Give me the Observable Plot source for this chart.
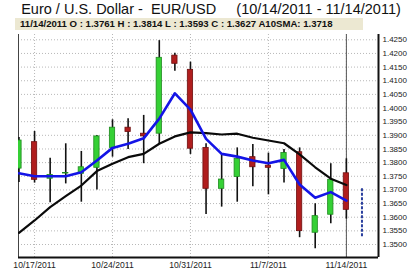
<!DOCTYPE html>
<html><head><meta charset="utf-8">
<script src="https://cdn.jsdelivr.net/npm/d3@7"></script>
<script src="https://cdn.jsdelivr.net/npm/@observablehq/plot@0.6"></script>
<style>
body{margin:0;background:#fff;font-family:"Liberation Sans",Arial,sans-serif}
#wrap{position:relative;width:410px;height:271px;overflow:hidden;background:#fff}
#title{position:absolute;left:6px;top:0;width:410px;height:18px;text-align:center;font-size:14.5px;line-height:18px;white-space:pre;color:#111}
#chart{position:absolute;left:0;top:17px}
#hdr{position:absolute;left:15px;top:18px;width:348px;height:12px;background:#ece8d2;font-size:9.6px;font-weight:bold;line-height:12px;padding-left:5px;white-space:pre;box-sizing:border-box;color:#111}
</style></head>
<body>
<div id="wrap">
<div id="title"></div>
<div id="chart"></div>
<div id="hdr"></div>
</div>
<script>
const dates = ["10/14/2011","10/17/2011","10/18/2011","10/19/2011","10/20/2011","10/21/2011","10/24/2011","10/25/2011","10/26/2011","10/27/2011","10/28/2011","10/31/2011","11/1/2011","11/2/2011","11/3/2011","11/4/2011","11/7/2011","11/8/2011","11/9/2011","11/10/2011","11/11/2011","11/14/2011"];
const openV  = [1.3778,1.3875,1.3741,1.3760,1.3759,1.3781,1.3854,1.3928,1.3906,1.3906,1.4192,1.4140,1.3854,1.3704,1.3747,1.3820,1.3789,1.3777,1.3838,1.3543,1.3609,1.3761];
const highV  = [1.3892,1.3914,1.3816,1.3869,1.3841,1.3899,1.3957,1.3961,1.3973,1.4247,1.4201,1.4168,1.3869,1.3832,1.3854,1.3866,1.3835,1.3848,1.3854,1.3649,1.3796,1.3814];
const lowV   = [1.3727,1.3725,1.3653,1.3722,1.3655,1.3700,1.3820,1.3848,1.3796,1.3869,1.4135,1.3830,1.3610,1.3637,1.3655,1.3712,1.3682,1.3725,1.3525,1.3484,1.3576,1.3593];
const closeV = [1.3881,1.3737,1.3755,1.3762,1.3783,1.3896,1.3928,1.3912,1.3896,1.4184,1.4162,1.3851,1.3704,1.3738,1.3814,1.3783,1.3781,1.3835,1.3549,1.3604,1.3737,1.3627];
const sma3   = [1.3761,1.3750,1.3750,1.3750,1.3765,1.3808,1.3854,1.3869,1.3889,1.3961,1.4054,1.3994,1.3887,1.3832,1.3822,1.3808,1.3798,1.3810,1.3720,1.3671,1.3692,1.3661];
const sma10  = [1.3543,1.3588,1.3637,1.3677,1.3716,1.3769,1.3796,1.3820,1.3832,1.3869,1.3896,1.3911,1.3908,1.3903,1.3906,1.3891,1.3881,1.3871,1.3830,1.3783,1.3741,1.3718];
const nextDate = "11/15/2011";
const nextRange = [1.3704, 1.3525];
const xTickLabels = ["10/17/2011","10/24/2011","10/31/2011","11/7/2011","11/14/2011"];
const yTicks = [1.3500,1.3550,1.3600,1.3650,1.3700,1.3750,1.3800,1.3850,1.3900,1.3950,1.4000,1.4050,1.4100,1.4150,1.4200,1.4250];
const titleText = "Euro / U.S. Dollar -  EUR/USD     (10/14/2011 - 11/14/2011)";

const allDates = dates.concat([nextDate]);
const last = dates.length - 1;
document.getElementById("title").textContent = titleText;
document.getElementById("hdr").textContent =
  `${dates[last]} O : ${openV[last].toFixed(4)} H : ${highV[last].toFixed(4)} L : ${lowV[last].toFixed(4)} C : ${closeV[last].toFixed(4)} A10SMA: ${sma10[last].toFixed(4)}`;

const bars = dates.map((d, i) => ({i, o: openV[i], h: highV[i], l: lowV[i], c: closeV[i], up: closeV[i] >= openV[i]}));
const lines = dates.map((d, i) => ({i, s3: sma3[i], s10: sma10[i]}));
const tickIdx = xTickLabels.map(t => allDates.indexOf(t));
const xDom = [-0.03, 23.06];
const yDom = [1.34524, 1.42694];
const half = 0.17;

const chart = Plot.plot({
  width: 410, height: 254,
  marginTop: 17, marginBottom: 14, marginLeft: 18, marginRight: 32,
  style: {fontFamily: "'Liberation Sans', Arial, sans-serif", background: "transparent", color: "#222"},
  x: {type: "linear", domain: xDom},
  y: {domain: yDom},
  marks: [
    Plot.gridY(yTicks, {stroke: "#b8b8b8", strokeOpacity: 1, strokeDasharray: "1,2"}),
    Plot.gridX(tickIdx, {stroke: "#b8b8b8", strokeOpacity: 1, strokeDasharray: "1,2"}),
    Plot.ruleX([xDom[0]], {stroke: "#444", strokeWidth: 1}),
    Plot.ruleX([last], {stroke: "#555", strokeWidth: 1}),
    Plot.ruleX(bars, {x: "i", y1: "l", y2: "h", stroke: "#111", strokeWidth: 1.6, clip: true}),
    Plot.rect(bars, {x1: d => d.i - half, x2: d => d.i + half, y1: "o", y2: "c",
      fill: d => d.up ? "#35d035" : "#b01e1e", stroke: d => d.up ? "#1f8a1f" : "#6e1010", strokeWidth: 0.8, clip: true}),
    Plot.line(lines, {x: "i", y: "s10", stroke: "#0a0a0a", strokeWidth: 2.2, clip: true}),
    Plot.line(lines, {x: "i", y: "s3", stroke: "#1414e6", strokeWidth: 2.6, clip: true}),
    Plot.ruleX([{i: allDates.indexOf(nextDate), a: nextRange[0], b: nextRange[1]}],
      {x: "i", y1: "a", y2: "b", stroke: "#2a3f9e", strokeWidth: 2, strokeDasharray: "3,1.5"}),
    Plot.ruleY([yDom[0]], {stroke: "#111", strokeWidth: 2}),
    Plot.ruleX([xDom[1]], {stroke: "#111", strokeWidth: 2}),
    Plot.axisY(yTicks, {anchor: "right", tickSize: 0, tickPadding: 4, fontSize: 8, tickFormat: d => d.toFixed(4), label: null}),
    Plot.axisX(tickIdx, {anchor: "bottom", tickSize: 0, tickPadding: 4, fontSize: 8.6, tickFormat: i => allDates[i], label: null})
  ]
});
document.getElementById("chart").appendChild(chart);
</script>
</body></html>
